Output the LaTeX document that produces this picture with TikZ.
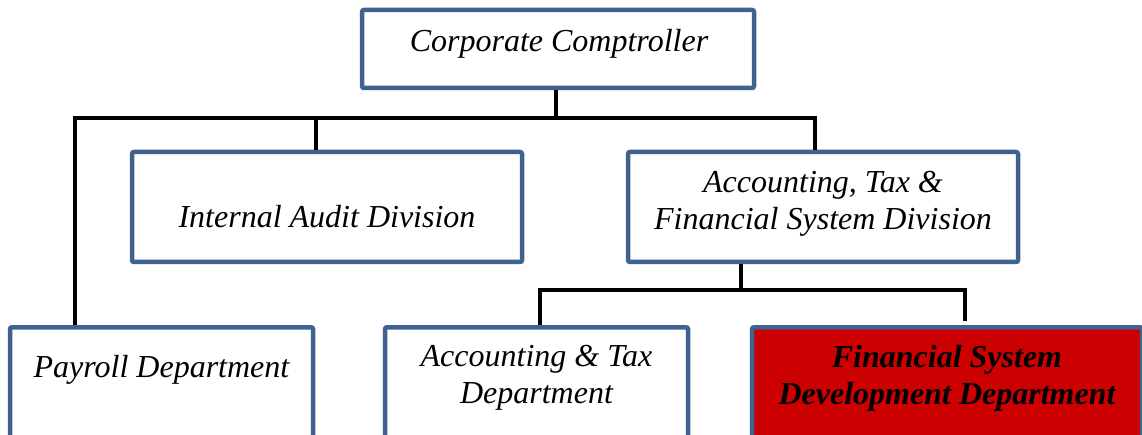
\documentclass[tikz,border=0pt]{standalone}
\usepackage{fontspec}
\setmainfont{Liberation Serif}
\definecolor{boxblue}{HTML}{3F6290}
\definecolor{boxred}{HTML}{CC0000}
\tikzset{
  orgbox/.style={draw=boxblue, line width=4.5pt, rounded corners=2pt, fill=white, inner sep=0pt},
  redbox/.style={orgbox, fill=boxred},
  lbl/.style={font=\fontsize{32}{37}\selectfont\itshape, align=center, inner sep=0pt},
  rlbl/.style={font=\fontsize{32}{37}\selectfont\bfseries\itshape, align=center, inner sep=0pt},
  conn/.style={line width=4pt, black},
}
\begin{document}
\begin{tikzpicture}[x=1pt, y=-1pt]
\useasboundingbox (0,0) rectangle (1142,435);
\clip (0,0) rectangle (1142,435);
\fill[white] (0,0) rectangle (1142,435);
% boxes
\node[orgbox, minimum width=392pt, minimum height=78pt] (cc) at (558,49) {};
\node[lbl] (cct) at (559,44) {Corporate Comptroller};
\node[orgbox, minimum width=390pt, minimum height=110pt] (ia) at (327,207) {};
\node[lbl] (iat) at (327,217) {Internal Audit Division};
\node[orgbox, minimum width=390pt, minimum height=110pt] (atf) at (823,207) {};
\node[lbl] (atft) at (823,204) {Accounting, Tax \&\\Financial System Division};
\node[orgbox, minimum width=303pt, minimum height=160pt, anchor=north] (pay) at (161.5,325) {};
\node[lbl] (payt) at (161.5,370) {Payroll Department};
\node[orgbox, minimum width=303pt, minimum height=160pt, anchor=north] (atd) at (536.5,325) {};
\node[lbl] (atdt) at (536.5,378) {Accounting \& Tax\\Department};
\node[redbox, minimum width=390pt, minimum height=160pt, anchor=north] (fsd) at (947,325) {};
\node[rlbl] (fsdt) at (947,378) {Financial System\\Development Department};
% connectors
\coordinate (b1) at (556,118);
\coordinate (b2) at (741,290);
\coordinate (fsdtop) at (965,321);
\draw[conn] (cc.south -| b1) -- (b1);
\draw[conn] (pay.north -| 75,0) -- (75,118) -- (815,118) -- (ia.north -| 815,0);
\draw[conn] (316,118) -- (ia.north -| 316,0);
\draw[conn] (atf.south -| b2) -- (b2);
\draw[conn] (atd.north -| 540,0) -- (540,290) -- (965,290) -- (fsdtop);
\end{tikzpicture}
\end{document}
